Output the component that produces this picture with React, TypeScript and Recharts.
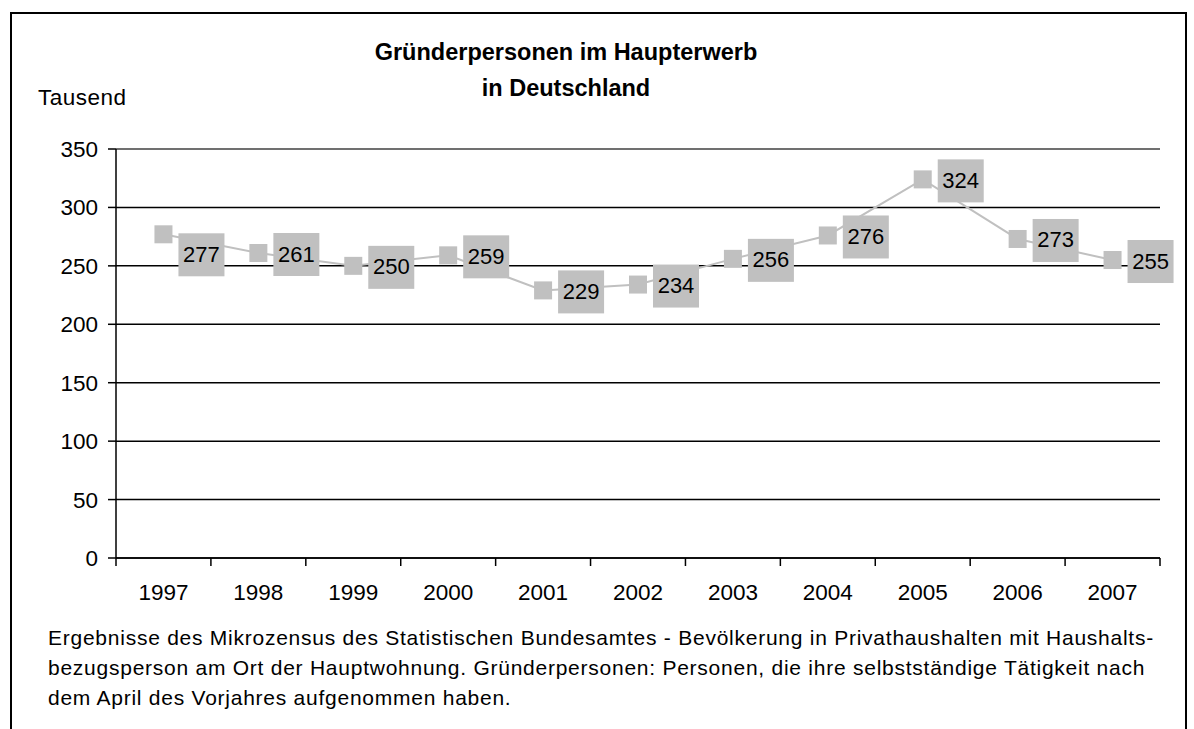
import React from 'react';
import { LineChart, Line, XAxis, YAxis, CartesianGrid, ReferenceLine, LabelList } from 'recharts';

const years = ['1997', '1998', '1999', '2000', '2001', '2002', '2003', '2004', '2005', '2006', '2007'];
const founders = [277, 261, 250, 259, 229, 234, 256, 276, 324, 273, 255];
const yTicks = [0, 50, 100, 150, 200, 250, 300, 350];

const titleLines = ['Gründerpersonen im Haupterwerb', 'in Deutschland'];
const unitLabel = 'Tausend';
const noteLines = [
  'Ergebnisse des Mikrozensus des Statistischen Bundesamtes - Bevölkerung in Privathaushalten mit Haushalts-',
  'bezugsperson am Ort der Hauptwohnung. Gründerpersonen: Personen, die ihre selbstständige Tätigkeit nach',
  'dem April des Vorjahres aufgenommen haben.',
];

const data = years.map((year, i) => ({ year, value: founders[i] }));

const W = 1194;
const H = 729;
const margin = { top: 149, right: 34, bottom: 131, left: 56 };
const yAxisWidth = 60;
const plotWidth = W - margin.left - yAxisWidth - margin.right;
const halfBand = plotWidth / years.length / 2;

const FONT = '"Liberation Sans", Arial, sans-serif';
const GREY = '#c0c0c0';

const XTick = (props: any) => {
  const { x, y, payload, index } = props;
  return (
    <g>
      <line x1={x - halfBand} y1={y} x2={x - halfBand} y2={y + 8} stroke="#000" strokeWidth={1.5} />
      {index === years.length - 1 && (
        <line x1={x + halfBand} y1={y} x2={x + halfBand} y2={y + 8} stroke="#000" strokeWidth={1.5} />
      )}
      <text x={x} y={y + 34} textAnchor="middle" dominantBaseline="central" fontSize={22.5} fill="#000" fontFamily={FONT}>
        {payload.value}
      </text>
    </g>
  );
};

const renderLabel = (props: any) => {
  const { x, y, value, index } = props;
  // Excel pushed the first label down so it doesn't sit on the marker
  const top = index === 0 ? y - 1 : y - 20;
  const left = x + 15;
  return (
    <g>
      <rect x={left} y={top} width={46} height={43} fill={GREY} />
      <text x={left + 23} y={top + 21} textAnchor="middle" dominantBaseline="central" fontSize={22} fill="#000" fontFamily={FONT}>
        {value}
      </text>
    </g>
  );
};

const renderDot = (props: any) => {
  const { cx, cy, index } = props;
  return <rect key={`dot-${index}`} x={cx - 9} y={cy - 9} width={18} height={18} fill={GREY} />;
};

export default function App() {
  return (
    <div style={{ position: 'absolute', left: 0, top: 0, width: W, height: H, background: '#fff', fontFamily: FONT, overflow: 'hidden' }}>
      <div style={{ position: 'absolute', left: 10, top: 12, width: 1173, height: 740, border: '2px solid #000' }} />
      <div style={{ position: 'absolute', left: 316, top: 34, width: 500, textAlign: 'center', fontSize: 23.5, fontWeight: 'bold', lineHeight: '36px', color: '#000' }}>
        {titleLines.map((t) => (
          <div key={t}>{t}</div>
        ))}
      </div>
      <div style={{ position: 'absolute', left: 38, top: 85, fontSize: 22.5, lineHeight: '26px', letterSpacing: 0.5, color: '#000' }}>{unitLabel}</div>
      <div style={{ position: 'absolute', left: 0, top: 0 }}>
        <LineChart width={W} height={H} data={data} margin={margin}>
          <CartesianGrid vertical={false} stroke="#000" strokeWidth={1.5} yAxisId="left" />
          <XAxis
            dataKey="year"
            padding={{ left: halfBand, right: halfBand }}
            height={40}
            tickSize={0}
            tickMargin={0}
            tickLine={false}
            tick={<XTick />}
            axisLine={{ stroke: '#000', strokeWidth: 1.5 }}
            interval={0}
          />
          <YAxis
            yAxisId="left"
            width={yAxisWidth}
            domain={[0, 350]}
            ticks={yTicks}
            tickSize={8}
            tickMargin={10}
            tick={{ fontSize: 22.5, fill: '#000', fontFamily: FONT }}
            tickLine={{ stroke: '#000', strokeWidth: 1.5 }}
            axisLine={{ stroke: '#000', strokeWidth: 1.5 }}
          />
          <YAxis
            yAxisId="right"
            orientation="right"
            width={0}
            domain={[0, 350]}
            tick={false}
            tickLine={false}
            axisLine={{ stroke: '#808080', strokeWidth: 1.5 }}
          />
          <ReferenceLine yAxisId="left" y={350} stroke="#808080" strokeWidth={1.5} />
          <Line
            yAxisId="left"
            dataKey="value"
            stroke={GREY}
            strokeWidth={2}
            dot={renderDot}
            activeDot={false}
            isAnimationActive={false}
          >
            <LabelList dataKey="value" content={renderLabel} />
          </Line>
        </LineChart>
      </div>
      <div style={{ position: 'absolute', left: 48, top: 623, fontSize: 21, lineHeight: '30px', letterSpacing: 0.75, color: '#000', whiteSpace: 'nowrap' }}>
        {noteLines.map((t) => (
          <div key={t}>{t}</div>
        ))}
      </div>
    </div>
  );
}
